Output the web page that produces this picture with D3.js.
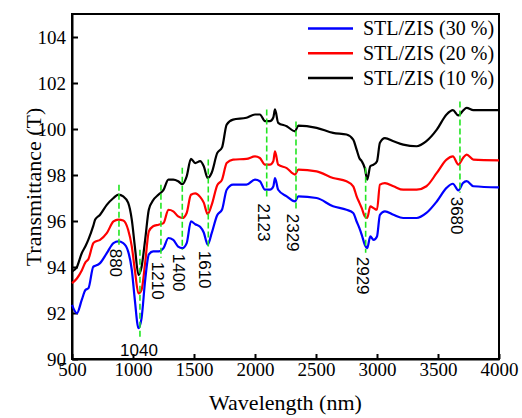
<!DOCTYPE html>
<html>
<head>
<meta charset="utf-8">
<script src="https://cdn.jsdelivr.net/npm/d3@7"></script>
<style>
  body { margin: 0; background: #fff; }
  .axis text { font-family: "Liberation Serif", "Times New Roman", serif; font-size: 19px; fill: #000; }
  .axis path, .axis line { stroke: #000; stroke-width: 2; }
  .serif { font-family: "Liberation Serif", "Times New Roman", serif; }
</style>
</head>
<body>
<div id="graph"></div>
<script>
// wavelength grid (nm), shared by all three spectra
var wavelengths = [500, 540, 580, 610, 635, 675, 690, 730, 785, 840, 880, 920, 960, 990, 1015, 1045, 1070, 1100, 1130, 1165,
  1210, 1250, 1290, 1330, 1370, 1405, 1440, 1475, 1510, 1550, 1580, 1612, 1645, 1690, 1730, 1768, 1820, 1930, 2000, 2040,
  2082, 2123, 2150, 2164, 2190, 2260, 2328, 2355, 2505, 2640, 2750, 2805, 2833, 2855, 2875, 2900, 2920, 2945, 2972, 3000,
  3024, 3065, 3135, 3215, 3325, 3405, 3490, 3570, 3622, 3667, 3705, 3735, 3790, 4000];

var stl30 = [92.35, 91.99, 92.57, 93.0, 93.08, 94.02, 94.05, 94.17, 94.6, 95.04, 95.11, 95.04, 94.68, 93.88, 92.57, 91.34, 91.77, 93.44, 94.55, 94.68,
  94.68, 94.82, 95.26, 95.18, 94.89, 94.82, 95.04, 95.98, 95.86, 95.75, 95.5, 94.97, 95.47, 96.25, 96.5, 97.36, 97.58, 97.58, 97.8, 97.73,
  97.36, 97.36, 97.5, 97.87, 97.36, 97.07, 96.85, 97.07, 97.0, 96.64, 96.49, 96.35, 95.98, 95.7, 95.4, 94.97, 94.82, 95.33, 95.18, 95.33,
  96.27, 96.42, 96.27, 96.13, 96.13, 96.35, 96.85, 97.44, 97.62, 97.33, 97.65, 97.73, 97.51, 97.46];

var stl20 = [93.3, 93.5, 93.85, 94.2, 94.35, 95.04, 95.1, 95.18, 95.47, 95.98, 96.06, 96.02, 95.62, 94.9, 93.88, 92.85, 93.0, 94.2, 95.55, 95.77,
  95.84, 95.91, 96.49, 96.42, 96.2, 96.13, 96.35, 97.14, 97.2, 97.05, 96.8, 96.3, 96.7, 97.55, 97.8, 98.52, 98.67, 98.7, 98.81, 98.74,
  98.45, 98.45, 98.6, 99.03, 98.45, 98.3, 98.02, 98.23, 98.16, 97.87, 97.73, 97.51, 97.07, 96.8, 96.56, 96.2, 96.13, 96.64, 96.56, 96.49,
  97.58, 97.65, 97.51, 97.36, 97.36, 97.51, 98.09, 98.67, 98.81, 98.45, 98.74, 98.89, 98.67, 98.64];

var stl10 = [93.8, 94.0, 94.6, 94.9, 95.2, 95.8, 96.06, 96.27, 96.7, 97.0, 97.15, 97.07, 96.8, 96.06, 94.9, 93.66, 94.0, 95.2, 96.5, 96.9,
  97.15, 97.35, 97.8, 97.8, 97.73, 97.6, 97.94, 98.7, 98.52, 98.6, 98.38, 97.87, 98.1, 98.95, 99.2, 100.19, 100.41, 100.49, 100.63, 100.63,
  100.34, 100.34, 100.5, 100.85, 100.27, 100.12, 99.9, 100.15, 100.05, 99.83, 99.76, 99.54, 99.1, 98.74, 98.6, 98.3, 97.8, 98.38, 98.45, 98.6,
  99.4, 99.6, 99.47, 99.32, 99.25, 99.47, 99.97, 100.63, 100.82, 100.59, 100.8, 100.92, 100.82, 100.82];

var seriesNames = ["STL/ZIS (30 %)", "STL/ZIS (20 %)", "STL/ZIS (10 %)"];
var seriesColors = ["#0000ff", "#ff0000", "#000000"];

// peak markers: label, x position of the dashed line, top/bottom of the dashed line (T)
var peakLabels = ["880", "1040", "1210", "1400", "1610", "2123", "2329", "2929", "3680"];
var peakPos = [885, 1057, 1229, 1404, 1617, 2096, 2336, 2907, 3680];
var peakTop = [97.58, 94.75, 97.58, 98.32, 98.67, 100.85, 100.33, 98.32, 101.2];
var peakBottom = [94.97, 90.96, 94.4, 94.75, 94.88, 96.93, 96.49, 94.62, 97.23];

var xTicks = [500, 1000, 1500, 2000, 2500, 3000, 3500, 4000];
var yTicks = [90, 92, 94, 96, 98, 100, 102, 104];

var svg = d3.select("#graph").append("svg")
    .attr("width", 522)
    .attr("height", 418),
    margin = {top: 14, right: 23, bottom: 59, left: 72},
    width = 522 - margin.left - margin.right,
    height = 418 - margin.top - margin.bottom,
    g = svg.append("g").attr("transform", "translate(" + margin.left + "," + margin.top + ")");

var x = d3.scaleLinear().domain([500, 4000]).range([0, width]),
    y = d3.scaleLinear().domain([90, 105]).range([height, 0]);

var line = d3.line()
    .curve(d3.curveMonotoneX)
    .x(function(d) { return x(d.wl); })
    .y(function(d) { return y(d.t); });

var series = [stl30, stl20, stl10].map(function(vals, i) {
    return {
        id: seriesNames[i],
        color: seriesColors[i],
        values: wavelengths.map(function(w, j) { return {wl: w, t: vals[j]}; })
    };
});

// frame
g.append("rect")
    .attr("width", width)
    .attr("height", height)
    .attr("fill", "none")
    .attr("stroke", "#000")
    .attr("stroke-width", 2);

var xAxis = g.append("g")
    .attr("class", "axis axis--x")
    .attr("transform", "translate(0," + height + ")")
    .call(d3.axisBottom(x).tickValues(xTicks).tickFormat(d3.format("d"))
        .tickSizeInner(-5).tickSizeOuter(0).tickPadding(4));

var yAxis = g.append("g")
    .attr("class", "axis axis--y")
    .call(d3.axisLeft(y).tickValues(yTicks).tickFormat(d3.format("d"))
        .tickSizeInner(-6).tickSizeOuter(0).tickPadding(6));

xAxis.attr("font-family", null).attr("font-size", null);
yAxis.attr("font-family", null).attr("font-size", null);

// spectra, black drawn last like the original
g.selectAll(".spectrum")
    .data(series.slice().reverse())
    .enter().append("path")
    .attr("class", "spectrum")
    .attr("fill", "none")
    .attr("stroke-width", 2.2)
    .attr("stroke-linejoin", "round")
    .attr("stroke", function(d) { return d.color; })
    .attr("d", function(d) { return line(d.values); });

// peak markers
var peaks = peakLabels.map(function(l, i) {
    return {label: l, pos: peakPos[i], top: peakTop[i], bottom: peakBottom[i]};
});

g.selectAll(".peak")
    .data(peaks)
    .enter().append("line")
    .attr("class", "peak")
    .attr("x1", function(d) { return x(d.pos); })
    .attr("x2", function(d) { return x(d.pos); })
    .attr("y1", function(d) { return y(d.top); })
    .attr("y2", function(d) { return y(d.bottom); })
    .attr("stroke", "#22e622")
    .attr("stroke-width", 1.6)
    .attr("stroke-dasharray", "6,3");

g.selectAll(".peak-label")
    .data(peaks)
    .enter().append("text")
    .attr("class", "peak-label")
    .attr("font-family", "'Liberation Sans', Arial, sans-serif")
    .attr("font-size", 17)
    .attr("transform", function(d) {
        if (d.label === "1040") return "translate(" + (x(d.pos) - 1) + "," + (y(d.bottom) + 19) + ")";
        return "translate(" + (x(d.pos) - 3) + "," + (y(d.bottom) + 4) + ") rotate(90)";
    })
    .attr("text-anchor", function(d) { return d.label === "1040" ? "middle" : "start"; })
    .attr("dy", function(d) { return d.label === "1040" ? 0 : "0.35em"; })
    .text(function(d) { return d.label; });

// legend
var legend = g.selectAll(".legend")
    .data(series)
    .enter().append("g")
    .attr("class", "legend")
    .attr("transform", function(d, i) { return "translate(236," + (14.5 + i * 24.8) + ")"; });

legend.append("line")
    .attr("x1", 0)
    .attr("x2", 45)
    .attr("stroke", function(d) { return d.color; })
    .attr("stroke-width", 2.5);

legend.append("text")
    .attr("class", "serif")
    .attr("x", 55)
    .attr("dy", "0.33em")
    .attr("font-size", 20)
    .text(function(d) { return d.id; });

// axis titles
svg.append("text")
    .attr("class", "serif")
    .attr("x", margin.left + width / 2)
    .attr("y", 410)
    .attr("text-anchor", "middle")
    .attr("font-size", 22)
    .text("Wavelength (nm)");

svg.append("text")
    .attr("class", "serif")
    .attr("transform", "translate(41," + (margin.top + 173) + ") rotate(-90)")
    .attr("text-anchor", "middle")
    .attr("font-size", 22)
    .text("Transmittance (T)");
</script>
</body>
</html>
